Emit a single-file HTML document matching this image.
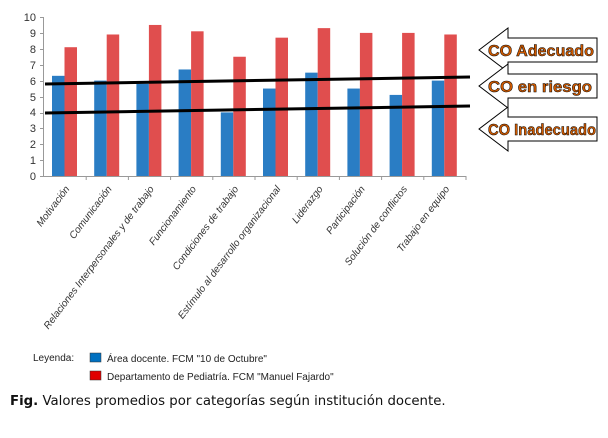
<!DOCTYPE html>
<html><head><meta charset="utf-8"><style>
body{margin:0;background:#fff;width:608px;height:433px;overflow:hidden}
</style></head><body>
<svg width="608" height="433" xmlns="http://www.w3.org/2000/svg" font-family="Liberation Sans, sans-serif">
<g font-size="11" fill="#333" text-anchor="end">
<text x="36" y="180">0</text><text x="36" y="164">1</text><text x="36" y="148">2</text><text x="36" y="132">3</text><text x="36" y="116">4</text><text x="36" y="101">5</text><text x="36" y="85">6</text><text x="36" y="69">7</text><text x="36" y="53">8</text><text x="36" y="37">9</text><text x="36" y="21">10</text>
</g>
<line x1="43.5" y1="17" x2="43.5" y2="176" stroke="#999"/>
<line x1="40" y1="176.5" x2="466" y2="176.5" stroke="#999"/>
<g stroke="#999">
<line x1="40" y1="17.5" x2="44" y2="17.5"/><line x1="40" y1="33.5" x2="44" y2="33.5"/><line x1="40" y1="49.5" x2="44" y2="49.5"/><line x1="40" y1="65.5" x2="44" y2="65.5"/><line x1="40" y1="81.5" x2="44" y2="81.5"/><line x1="40" y1="97.5" x2="44" y2="97.5"/><line x1="40" y1="113.5" x2="44" y2="113.5"/><line x1="40" y1="128.5" x2="44" y2="128.5"/><line x1="40" y1="144.5" x2="44" y2="144.5"/><line x1="40" y1="160.5" x2="44" y2="160.5"/>
</g>
<g id="bars"></g>
<line x1="45" y1="84" x2="470" y2="77" stroke="#000" stroke-width="3"/>
<line x1="45" y1="113" x2="470" y2="106" stroke="#000" stroke-width="3"/>
<g id="labels" font-size="10" font-style="italic" fill="#333" text-anchor="end"></g>
<g stroke="#000" stroke-width="1" fill="#fff">
<polygon points="479,50 508,28 508,38 597,38 597,62 508,62 508,72"/>
<polygon points="479,86 508,64 508,74 597,74 597,98 508,98 508,108"/>
<polygon points="479,129 508,107 508,117 597,117 597,141 508,141 508,151"/>
</g>
<g font-size="16" font-weight="bold" fill="#d05a00" stroke="#000" stroke-width="0.5" lengthAdjust="spacingAndGlyphs">
<text x="488" y="56" textLength="106" lengthAdjust="spacingAndGlyphs">CO Adecuado</text>
<text x="488" y="92" textLength="104" lengthAdjust="spacingAndGlyphs">CO en riesgo</text>
<text x="488" y="135" textLength="108" lengthAdjust="spacingAndGlyphs">CO Inadecuado</text>
</g>
<g font-size="10" fill="#222">
<text x="33" y="361">Leyenda:</text>
<rect x="90" y="353" width="11" height="9" fill="#0070c0" stroke="#333" stroke-width="0.5"/>
<text x="107" y="362">Área docente. FCM "10 de Octubre"</text>
<rect x="90" y="371" width="11" height="9" fill="#e00000" stroke="#333" stroke-width="0.5"/>
<text x="107" y="380">Departamento de Pediatría. FCM "Manuel Fajardo"</text>
</g>
<text x="10" y="405" font-family="DejaVu Sans, sans-serif" font-size="13.3" fill="#111"><tspan font-weight="bold">Fig.</tspan> Valores promedios por categorías según institución docente.</text>
</svg>
<script>
var b=[6.3,6.0,5.8,6.7,4.0,5.5,6.5,5.5,5.1,6.0],r=[8.1,8.9,9.5,9.1,7.5,8.7,9.3,9.0,9.0,8.9];
var L=["Motivación","Comunicación","Relaciones Interpersonales y de trabajo","Funcionamiento","Condiciones de trabajo","Estímulo al desarrollo organizacional","Liderazgo","Participación","Solución de conflictos","Trabajo en equipo"];
var g=document.getElementById("bars"),lg=document.getElementById("labels"),s="",t="";
for(var i=0;i<10;i++){var x0=44+i*42.2;
function R(x,v,c){return '<rect x="'+x+'" y="'+(176-v*15.9)+'" width="12.5" height="'+(v*15.9)+'" fill="'+c+'"/>';}
s+=R(x0+8,b[i],"#2a7dc4")+R(x0+20.5,r[i],"#e04e4e");
s+='<line x1="'+(x0+42.2)+'" y1="176" x2="'+(x0+42.2)+'" y2="180" stroke="#999"/>';
var cx=x0+26;t+='<text transform="translate('+cx+',189) rotate(-53)">'+L[i]+'</text>';}
g.innerHTML=s;lg.innerHTML=t;
</script>
</body></html>
